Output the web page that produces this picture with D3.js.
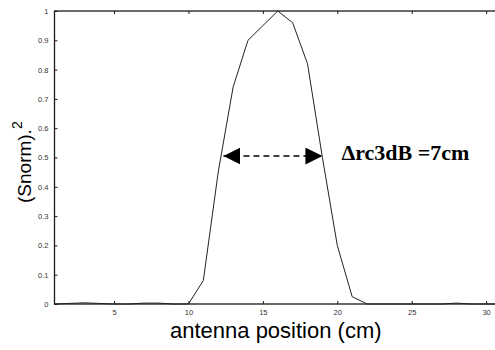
<!DOCTYPE html>
<html>
<head>
<meta charset="utf-8">
<script src="https://cdn.jsdelivr.net/npm/d3@7"></script>
<style>
  body { margin: 0; background: #fff; }
  svg { display: block; }
</style>
</head>
<body>
<svg id="chart" width="495" height="350"></svg>
<script>
// antenna position (cm) and normalised power
const positions = [1, 2, 3, 4, 5, 6, 7, 8, 9, 10, 11, 12, 13, 14, 15, 16, 17, 18, 19, 20, 21, 22, 23, 24, 25, 26, 27, 28, 29, 30, 31];
const power     = [0, 0.002, 0.004, 0.002, 0, 0, 0.003, 0.003, 0, 0, 0.08, 0.45, 0.74, 0.9, 0.95, 1.0, 0.96, 0.82, 0.5, 0.2, 0.025, 0, 0, 0, 0, 0, 0, 0.003, 0, 0, 0];

const xTicks = [5, 10, 15, 20, 25, 30];
const yTicks = [0, 0.1, 0.2, 0.3, 0.4, 0.5, 0.6, 0.7, 0.8, 0.9, 1];

// 3 dB width annotation
const arrowFrom = [12.35, 0.505];
const arrowTo = [19.0, 0.505];
const annotation = "\u0394rc3dB =7cm";

const svg = d3.select('#chart');
const mLeft = 54.5, mTop = 11, mRight = 501, mBottom = 304;

const x = d3.scaleLinear().domain([1, 31]).range([mLeft, mRight]);
const y = d3.scaleLinear().domain([0, 1]).range([mBottom, mTop]);

const ink = '#1a1a1a';

// frame
svg.append('rect')
    .attr('x', mLeft).attr('y', mTop)
    .attr('width', mRight - mLeft).attr('height', mBottom - mTop)
    .attr('fill', 'none').attr('stroke', ink).attr('stroke-width', 1.3);

// axes with inward ticks (matlab style)
const xAxis = svg.append('g')
    .attr('transform', `translate(0,${mBottom})`)
    .call(d3.axisBottom(x).tickValues(xTicks).tickSizeInner(-3).tickSizeOuter(0).tickPadding(6));
const xTop = svg.append('g')
    .attr('transform', `translate(0,${mTop})`)
    .call(d3.axisTop(x).tickValues(xTicks).tickSizeInner(-3).tickSizeOuter(0).tickFormat(''));
const yAxis = svg.append('g')
    .attr('transform', `translate(${mLeft},0)`)
    .call(d3.axisLeft(y).tickValues(yTicks).tickSizeInner(-3).tickSizeOuter(0).tickPadding(6)
        .tickFormat(d => d === 0 || d === 1 ? d3.format('d')(d) : d3.format('.1f')(d)));

[xAxis, xTop, yAxis].forEach(g => {
    g.select('.domain').remove();
    g.selectAll('line').attr('stroke', ink).attr('stroke-width', 1);
    g.selectAll('text')
        .attr('fill', '#333')
        .style('font-family', 'Liberation Sans, Arial, sans-serif')
        .style('font-size', '7.5px');
});

// the curve
const line = d3.line()
    .x((d, i) => x(positions[i]))
    .y(d => y(d));

svg.append('path')
    .datum(power)
    .attr('d', line)
    .attr('fill', 'none')
    .attr('stroke', '#222')
    .attr('stroke-width', 1);

// dashed double arrow
const defs = svg.append('defs');
defs.append('marker')
    .attr('id', 'head')
    .attr('viewBox', '0 0 10 10')
    .attr('refX', 10).attr('refY', 5)
    .attr('markerWidth', 17).attr('markerHeight', 17)
    .attr('markerUnits', 'userSpaceOnUse')
    .attr('orient', 'auto-start-reverse')
    .append('path')
    .attr('d', 'M0,0 L10,5 L0,10 Z')
    .attr('fill', '#000');

svg.append('line')
    .attr('x1', x(arrowFrom[0])).attr('y1', y(arrowFrom[1]))
    .attr('x2', x(arrowTo[0])).attr('y2', y(arrowTo[1]))
    .attr('stroke', '#000')
    .attr('stroke-width', 1.6)
    .attr('stroke-dasharray', '6,4')
    .attr('marker-start', 'url(#head)')
    .attr('marker-end', 'url(#head)');

svg.append('text')
    .attr('x', x(arrowTo[0]) + 19)
    .attr('y', y(arrowTo[1]) + 4)
    .attr('fill', '#000')
    .style('font-family', 'Liberation Serif, Times New Roman, serif')
    .style('font-weight', 'bold')
    .style('font-size', '22px')
    .text(annotation);

// axis titles
svg.append('text')
    .attr('x', 170)
    .attr('y', 338)
    .attr('fill', '#000')
    .style('font-family', 'Liberation Sans, Arial, sans-serif')
    .style('font-size', '22px')
    .text('antenna position (cm)');

const yTitle = svg.append('text')
    .attr('transform', 'translate(31,203) rotate(-90)')
    .attr('fill', '#000')
    .style('font-family', 'Liberation Sans, Arial, sans-serif')
    .style('font-size', '19px');
yTitle.append('tspan').text('(Snorm).');
yTitle.append('tspan').attr('dy', -9).style('font-size', '14px').text('2');
</script>
</body>
</html>
